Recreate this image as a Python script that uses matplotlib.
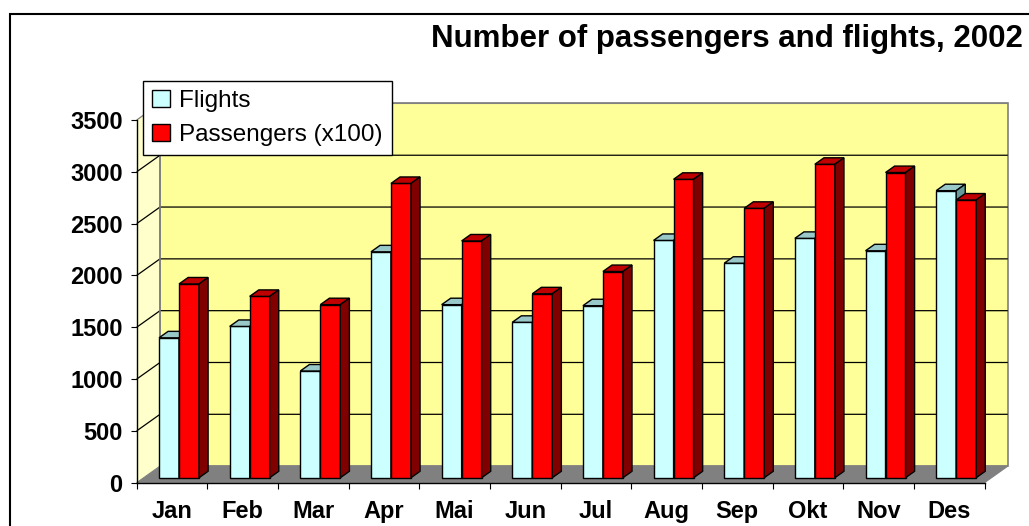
import matplotlib
matplotlib.use("Agg")
import matplotlib.pyplot as plt
from matplotlib.patches import Polygon, Rectangle, Patch

# ---------------- data ----------------
months = ["Jan", "Feb", "Mar", "Apr", "Mai", "Jun", "Jul", "Aug", "Sep", "Okt", "Nov", "Des"]
flights = [1350, 1460, 1030, 2180, 1670, 1500, 1660, 2290, 2070, 2310, 2190, 2770]
passengers = [1870, 1750, 1670, 2840, 2285, 1775, 1990, 2880, 2600, 3025, 2945, 2680]
series_names = ["Flights", "Passengers (x100)"]
y_ticks = [0, 500, 1000, 1500, 2000, 2500, 3000, 3500]
title = "Number of passengers and flights, 2002"

# ---------------- style ----------------
plt.rcParams['font.family'] = ['Liberation Sans', 'DejaVu Sans']
front_colors = ["#CCFFFF", "#FF0000"]
top_colors = ["#99C8C8", "#C00000"]
side_colors = ["#669999", "#800000"]

W_PX, H_PX = 1029, 526
fig = plt.figure(figsize=(W_PX / 100, H_PX / 100), dpi=100)


def fx(px):
    return px / W_PX


def fy(py):
    return 1 - py / H_PX


left, right, top, bottom = 136.7, 984.5, 120.0, 482.7
ax = fig.add_axes([fx(left), fy(bottom), fx(right - left), (bottom - top) / H_PX])
ax.patch.set_visible(False)
n = len(months)
ymax = y_ticks[-1]
ax.set_xlim(0, n)
ax.set_ylim(0, ymax)

DX = 0.33     # depth offset, category units
DY = 160      # depth offset, value units
BAR_FRONT = 0.30
BAR_DEPTH = 0.39
BAR_W = 0.283

# walls
ax.add_patch(Polygon([(0, 0), (DX, DY), (DX, ymax + DY), (0, ymax)],
                     closed=True, fc="#FFFFCC", ec="none", clip_on=False, zorder=0.5))
ax.add_patch(Polygon([(DX, DY), (n + DX, DY), (n + DX, ymax + DY), (DX, ymax + DY)],
                     closed=True, fc="#FFFF99", ec="#808080", lw=1.2, clip_on=False, zorder=0.6))
for v in y_ticks[1:]:
    col = "#808080" if v == ymax else "black"
    ax.plot([0, DX, n + DX], [v, v + DY, v + DY], color=col, lw=0.9,
            clip_on=False, zorder=0.7, solid_capstyle="butt")
ax.plot([DX, DX], [DY, ymax + DY], color="#808080", lw=1.2, clip_on=False, zorder=0.7)
ax.add_patch(Polygon([(0, 0), (n, 0), (n + DX, DY), (DX, DY)],
                     closed=True, fc="#808080", ec="#808080", lw=0.8, clip_on=False, zorder=0.8))

# bars
bdx, bdy = BAR_DEPTH * DX, BAR_DEPTH * DY
for i in range(n):
    for s, vals in enumerate([flights, passengers]):
        val = vals[i]
        x0 = i + BAR_FRONT * DX + 0.5 - BAR_W + s * BAR_W
        y0 = BAR_FRONT * DY
        t = y0 + val
        z = 2 + 0.01 * (2 * i + s)
        kw = dict(ec="black", lw=1.0, clip_on=False, zorder=z, joinstyle="miter")
        ax.add_patch(Rectangle((x0, y0), BAR_W, val, fc=front_colors[s], **kw))
        ax.add_patch(Polygon([(x0, t), (x0 + BAR_W, t), (x0 + BAR_W + bdx, t + bdy), (x0 + bdx, t + bdy)],
                             closed=True, fc=top_colors[s], **kw))
        ax.add_patch(Polygon([(x0 + BAR_W, y0), (x0 + BAR_W + bdx, y0 + bdy),
                              (x0 + BAR_W + bdx, t + bdy), (x0 + BAR_W, t)],
                             closed=True, fc=side_colors[s], **kw))

# axes
for sp in ["top", "right"]:
    ax.spines[sp].set_visible(False)
for sp in ["left", "bottom"]:
    ax.spines[sp].set_color("black")
    ax.spines[sp].set_linewidth(1.0)
    ax.spines[sp].set_zorder(5)
ax.set_yticks(y_ticks)
ax.set_yticklabels([str(v) for v in y_ticks], fontweight="bold")
ax.tick_params(axis="y", direction="out", length=4.3, width=0.8, pad=5.8, labelsize=17, colors="black")
ax.set_xticks(range(n + 1))
ax.set_xticklabels([""] * (n + 1))
ax.set_xticks([i + 0.5 for i in range(n)], minor=True)
ax.set_xticklabels(months, minor=True, fontweight="bold")
ax.tick_params(axis="x", which="major", direction="out", length=4.3, width=0.8)
ax.tick_params(axis="x", which="minor", length=0, pad=12.5, labelsize=17)

# title
fig.text(fx(1023), fy(47), title, ha="right", va="baseline", fontsize=22.5, fontweight="bold")

# legend
handles = [Patch(fc=front_colors[k], ec="black", lw=1.0) for k in range(2)]
leg = ax.legend(handles, series_names, loc="upper left",
                bbox_to_anchor=(fx(143), fy(80.7)), bbox_transform=fig.transFigure,
                fontsize=17.5, frameon=True, fancybox=False, framealpha=1,
                edgecolor="black", borderaxespad=0, borderpad=0.38,
                handlelength=0.75, handleheight=0.65, handletextpad=0.35,
                labelspacing=0.5)
leg.get_frame().set_linewidth(1.0)
leg.set_zorder(10)

# outer chart-area border (cropped on right/bottom)
fig.add_artist(Rectangle((fx(9.5), -0.5), 2, fy(13.5) + 0.5, transform=fig.transFigure,
                         fill=False, ec="black", lw=1.5))

fig.savefig("out.png", dpi=100)
